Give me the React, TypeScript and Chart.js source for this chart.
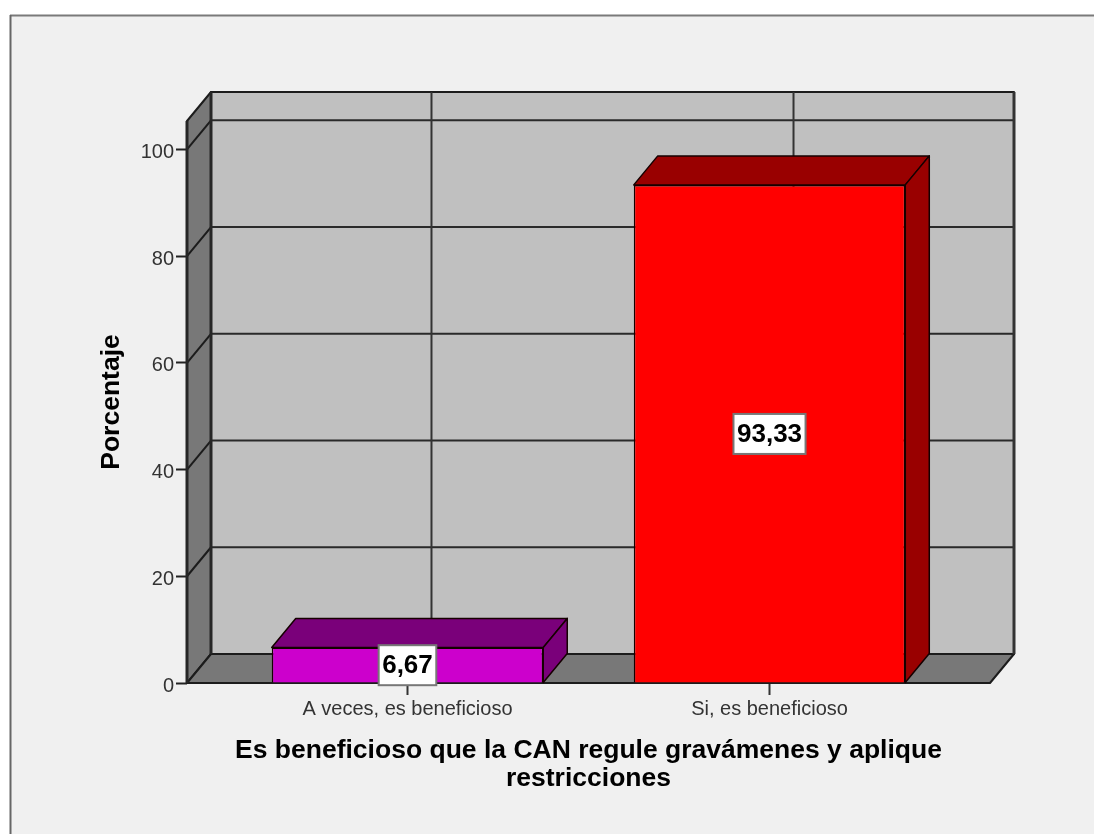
import React, { useEffect, useRef } from "react";
import { Chart, registerables } from "chart.js";

Chart.register(...registerables);

const categories = ["A veces, es beneficioso", "Si, es beneficioso"];
const percentages = [6.67, 93.33];
const frontColors = ["#cc00cc", "#ff0000"];
const sideColors = ["#7a007a", "#990000"];
const xTitleLines = ["Es beneficioso que la CAN regule gravámenes y aplique", "restricciones"];
const yTitle = "Porcentaje";
const yTicksMax = 105.3;

const DX = 24;
const DY = 29;
const FONT = '"Liberation Sans", Arial, sans-serif';
const EDGE = "#1c1c1c";
const WALL = "#c0c0c0";
const SHADE = "#787878";

function poly(ctx: CanvasRenderingContext2D, pts: number[][], fill: string | null, stroke: string, lw: number) {
  ctx.beginPath();
  pts.forEach((p, i) => (i ? ctx.lineTo(p[0], p[1]) : ctx.moveTo(p[0], p[1])));
  ctx.closePath();
  if (fill) {
    ctx.fillStyle = fill;
    ctx.fill();
  }
  ctx.lineWidth = lw;
  ctx.strokeStyle = stroke;
  ctx.lineJoin = "round";
  ctx.stroke();
}

function line(ctx: CanvasRenderingContext2D, x1: number, y1: number, x2: number, y2: number, color: string, lw: number) {
  ctx.beginPath();
  ctx.moveTo(x1, y1);
  ctx.lineTo(x2, y2);
  ctx.strokeStyle = color;
  ctx.lineWidth = lw;
  ctx.stroke();
}

const frame3d = {
  id: "frame3d",
  beforeDraw(chart: any) {
    const { ctx, width, height } = chart;
    ctx.save();
    ctx.fillStyle = "#ffffff";
    ctx.fillRect(0, 0, width, height);
    ctx.fillStyle = "#f0f0f0";
    ctx.fillRect(10, 15, width, height);
    line(ctx, 10, 15.5, width, 15.5, "#7a7a7a", 2);
    line(ctx, 10.5, 15, 10.5, height, "#666666", 2);
    ctx.restore();
  },
  beforeDatasetsDraw(chart: any) {
    const { ctx, chartArea: a, scales } = chart;
    const { left: l, right: r, top: t, bottom: b } = a;
    ctx.save();
    poly(ctx, [[l + DX, t - DY], [r + DX, t - DY], [r + DX, b - DY], [l + DX, b - DY]], WALL, EDGE, 2);
    poly(ctx, [[l, t], [l + DX, t - DY], [l + DX, b - DY], [l, b]], SHADE, EDGE, 2);
    poly(ctx, [[l, b], [l + DX, b - DY], [r + DX, b - DY], [r, b]], SHADE, EDGE, 2);
    scales.y.ticks.forEach((tk: any) => {
      if (tk.value === 0) return;
      const y = scales.y.getPixelForValue(tk.value);
      line(ctx, l, y, l + DX, y - DY, EDGE, 2);
      line(ctx, l + DX, y - DY, r + DX, y - DY, "#2a2a2a", 2);
    });
    scales.x.ticks.forEach((tk: any) => {
      const x = scales.x.getPixelForValue(tk.value);
      line(ctx, x + DX, t - DY, x + DX, b - DY, "#333333", 2);
    });
    line(ctx, r + DX, t - DY, r + DX, b - DY, "#333333", 3);
    line(ctx, l + DX, t - DY, l + DX, b - DY, "#262626", 3);
    line(ctx, l, t, l, b, "#262626", 3);
    ctx.restore();
  },
  afterDatasetsDraw(chart: any) {
    const { ctx } = chart;
    const meta = chart.getDatasetMeta(0);
    ctx.save();
    meta.data.forEach((bar: any, i: number) => {
      const x0 = bar.x - bar.width / 2;
      const x1 = bar.x + bar.width / 2;
      const top = bar.y;
      const base = bar.base;
      poly(ctx, [[x0, top], [x0 + DX, top - DY], [x1 + DX, top - DY], [x1, top]], sideColors[i], "#150000", 1.5);
      poly(ctx, [[x1, top], [x1 + DX, top - DY], [x1 + DX, base - DY], [x1, base]], sideColors[i], "#150000", 1.5);
    });
    ctx.restore();
  },
  afterDraw(chart: any) {
    const { ctx, scales } = chart;
    const meta = chart.getDatasetMeta(0);
    ctx.save();
    ctx.font = `bold 26px ${FONT}`;
    ctx.textAlign = "center";
    ctx.textBaseline = "middle";
    meta.data.forEach((bar: any, i: number) => {
      const text = percentages[i].toFixed(2).replace(".", ",");
      const y = scales.y.getPixelForValue(percentages[i] / 2);
      const w = ctx.measureText(text).width + 7;
      const h = 40;
      ctx.fillStyle = "#ffffff";
      ctx.fillRect(bar.x - w / 2, y - h / 2, w, h);
      ctx.strokeStyle = "#777777";
      ctx.lineWidth = 2;
      ctx.strokeRect(bar.x - w / 2, y - h / 2, w, h);
      ctx.fillStyle = "#000000";
      ctx.fillText(text, bar.x, y + 1);
    });
    ctx.restore();
  },
};

export default function App() {
  const ref = useRef<HTMLCanvasElement | null>(null);
  useEffect(() => {
    const chart = new Chart(ref.current as HTMLCanvasElement, {
      type: "bar",
      plugins: [frame3d],
      data: {
        datasets: [
          {
            data: categories.map((_, i) => ({ x: i, y: percentages[i] })),
            backgroundColor: frontColors,
            borderColor: "#150000",
            borderWidth: 1.5,
            barPercentage: 0.75,
            categoryPercentage: 1,
          },
        ],
      },
      options: {
        responsive: false,
        animation: false,
        layout: { padding: { top: 121, right: 104, left: 0, bottom: 0 } },
        plugins: { legend: { display: false }, tooltip: { enabled: false } },
        scales: {
          x: {
            type: "linear",
            offset: false,
            min: -0.609,
            max: 1.609,
            afterBuildTicks(scale: any) {
              scale.ticks = categories.map((_, i) => ({ value: i }));
            },
            afterFit(scale: any) {
              scale.height = 151;
            },
            grid: { offset: false, drawOnChartArea: false, drawTicks: true, tickLength: 12, tickColor: "#333333", tickWidth: 2 },
            border: { display: false },
            ticks: {
              callback: (v: any) => categories[v],
              autoSkip: false,
              maxRotation: 0,
              padding: 2,
              color: "#333333",
              font: { family: FONT, size: 20 },
            },
            title: {
              display: true,
              text: xTitleLines,
              color: "#000000",
              font: { family: FONT, size: 26.5, weight: "bold", lineHeight: 1.04 },
              padding: { top: 0, bottom: 42 },
            },
          },
          y: {
            min: 0,
            max: yTicksMax,
            afterFit(scale: any) {
              scale.width = 187;
            },
            grid: { drawOnChartArea: false, drawTicks: true, tickLength: 11, tickColor: "#222222", tickWidth: 2 },
            border: { display: false },
            ticks: {
              stepSize: 20,
              includeBounds: false,
              padding: 2,
              labelOffset: 3,
              color: "#333333",
              font: { family: FONT, size: 20 },
            },
            title: {
              display: true,
              text: yTitle,
              color: "#000000",
              font: { family: FONT, size: 26.5, weight: "bold", lineHeight: 1.04 },
              padding: { top: 98, bottom: 0 },
            },
          },
        },
      },
    } as any);
    return () => chart.destroy();
  }, []);
  return (
    <canvas
      ref={ref}
      width={1094}
      height={834}
      style={{ position: "fixed", left: 0, top: 0, width: 1094, height: 834, display: "block", filter: "blur(0.45px)" }}
    />
  );
}
